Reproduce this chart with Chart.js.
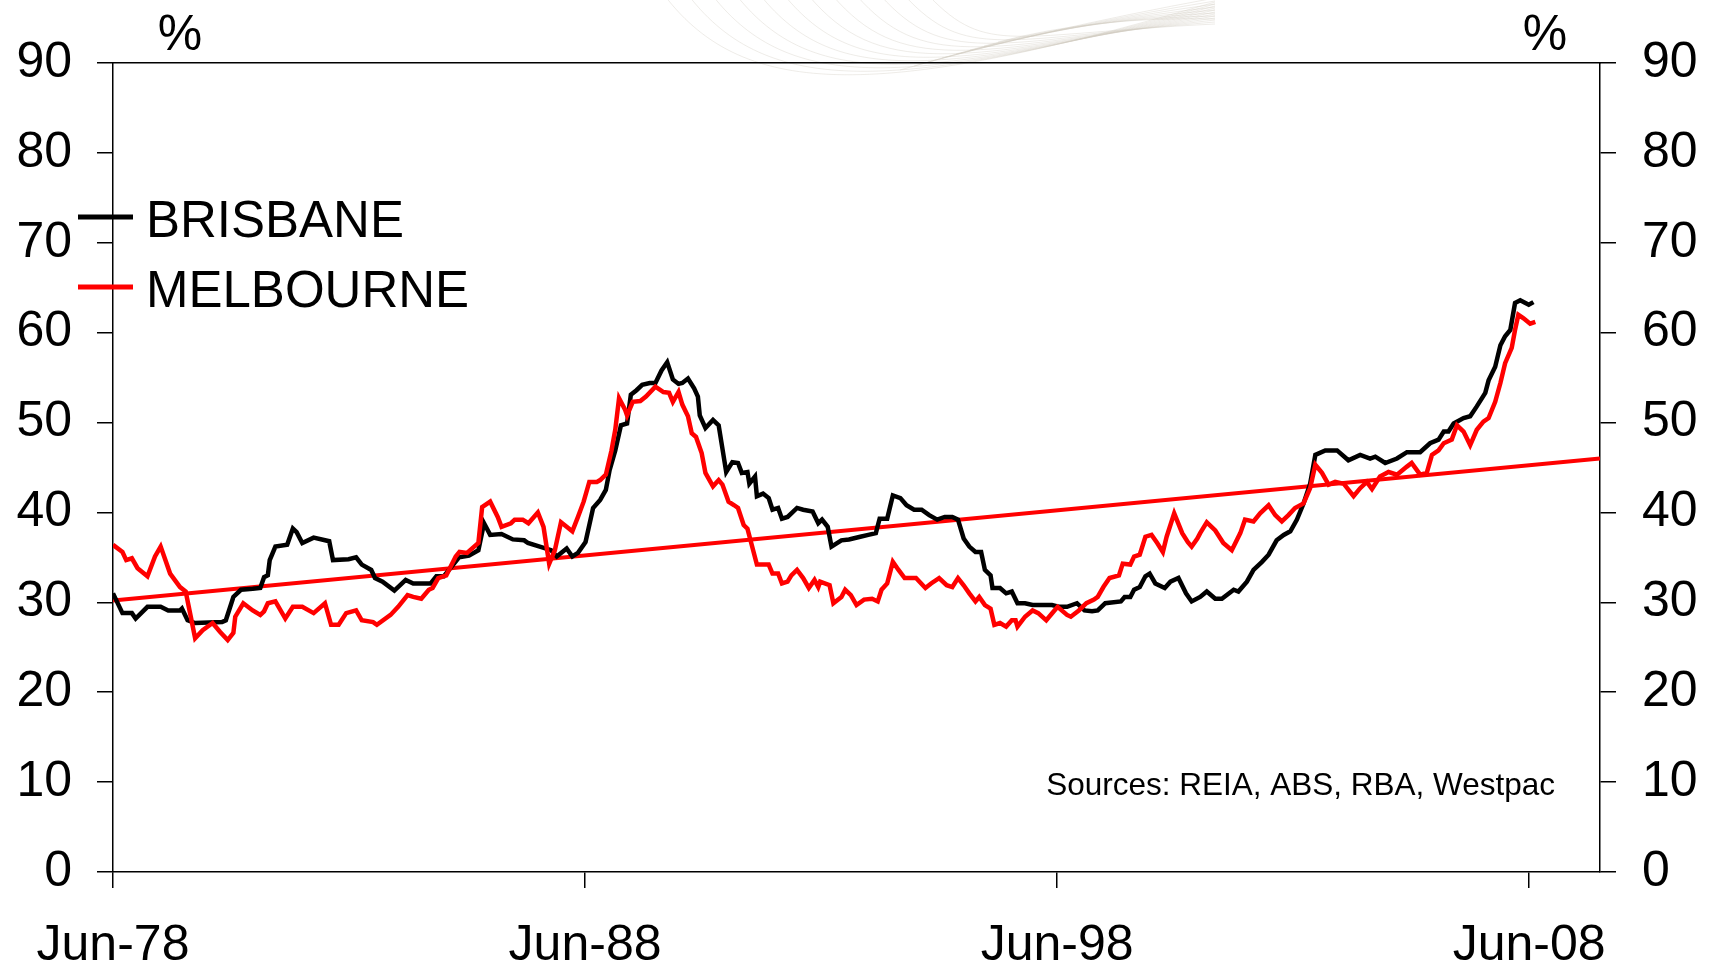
<!DOCTYPE html>
<html>
<head>
<meta charset="utf-8">
<title>Brisbane and Melbourne</title>
<script src="https://cdn.jsdelivr.net/npm/chart.js@4.4.1/dist/chart.umd.min.js"></script>
<style>
  html, body { margin: 0; padding: 0; background: #fff; }
  #wrap { width: 1709px; height: 971px; }
</style>
</head>
<body>
<div id="wrap"><canvas id="chart" width="1709" height="971"></canvas></div>
<script>
const FONT = '"Liberation Sans", Arial, Helvetica, sans-serif';

// x positions are decimal years, Jun-YY sits at YY.5
const tickYears = [1978.5, 1988.5, 1998.5, 2008.5];
const tickLabels = ['Jun-78', 'Jun-88', 'Jun-98', 'Jun-08'];

const brisbaneDates = [
  1978.50, 1978.70, 1978.90, 1978.98, 1979.23, 1979.51, 1979.67, 1979.92, 1979.96, 1980.08,
  1980.24, 1980.81, 1980.89, 1981.05, 1981.21, 1981.46, 1981.62, 1981.70, 1981.78, 1981.82,
  1981.94, 1982.19, 1982.31, 1982.39, 1982.51, 1982.75, 1983.08, 1983.16, 1983.49, 1983.65,
  1983.77, 1983.97, 1984.05, 1984.21, 1984.46, 1984.70, 1984.86, 1985.23, 1985.35, 1985.51,
  1985.63, 1985.83, 1986.04, 1986.24, 1986.36, 1986.49, 1986.73, 1986.97, 1987.21, 1987.29,
  1987.54, 1987.78, 1987.90, 1988.11, 1988.23, 1988.35, 1988.51, 1988.67, 1988.82,
  1988.94, 1989.02, 1989.14, 1989.26, 1989.39, 1989.47, 1989.59, 1989.71, 1989.87, 1989.99,
  1990.12, 1990.24, 1990.36, 1990.48, 1990.56, 1990.68, 1990.81, 1990.89, 1990.93, 1991.05,
  1991.21, 1991.33, 1991.49, 1991.62, 1991.74, 1991.82, 1991.94, 1991.98, 1992.10, 1992.14,
  1992.27, 1992.39, 1992.47, 1992.59, 1992.67, 1992.79, 1992.87, 1992.99, 1993.12, 1993.32,
  1993.44, 1993.52, 1993.64, 1993.72, 1993.93, 1994.09, 1994.33, 1994.50, 1994.66, 1994.74,
  1994.90, 1995.02, 1995.18, 1995.31, 1995.47, 1995.63, 1995.79, 1995.96, 1996.12, 1996.28,
  1996.40, 1996.52, 1996.64, 1996.77, 1996.89, 1996.97, 1997.09, 1997.13, 1997.29, 1997.42,
  1997.54, 1997.66, 1997.82, 1997.98, 1998.39, 1998.55, 1998.71, 1998.92, 1999.08, 1999.24,
  1999.36, 1999.52, 1999.85, 1999.93, 2000.05, 2000.13, 2000.25, 2000.37, 2000.46, 2000.58,
  2000.78, 2000.90, 2001.07, 2001.23, 2001.35, 2001.53,
  2001.67, 2001.85, 2001.99, 2002.24, 2002.34, 2002.52, 2002.66, 2002.84, 2002.98, 2003.15,
  2003.30, 2003.44, 2003.58, 2003.72, 2003.86, 2003.97, 2004.18, 2004.43, 2004.67, 2004.92,
  2005.13, 2005.24, 2005.45, 2005.70, 2005.91, 2006.19, 2006.40, 2006.58, 2006.69, 2006.79,
  2006.90, 2007.11, 2007.25, 2007.39, 2007.57, 2007.64, 2007.78, 2007.89, 2007.99, 2008.10,
  2008.20, 2008.31, 2008.49, 2008.59
];
const brisbaneValues = [
  31.0, 28.8, 28.8, 28.2, 29.5, 29.5, 29.1, 29.1, 29.3, 28.0,
  27.7, 27.8, 28.0, 30.6, 31.4, 31.5, 31.6, 32.8, 33.0, 34.7,
  36.2, 36.4, 38.2, 37.8, 36.6, 37.2, 36.8, 34.7, 34.8, 35.0,
  34.2, 33.6, 32.7, 32.3, 31.3, 32.5, 32.1, 32.1, 32.9, 32.9,
  33.7, 35.0, 35.2, 35.8, 38.8, 37.5, 37.6, 37.0, 36.9, 36.6,
  36.2, 35.8, 35.1, 36.0, 35.1, 35.5, 36.7, 40.5, 41.4,
  42.5, 44.7, 46.9, 49.7, 49.9, 53.1, 53.6, 54.2, 54.4, 54.4,
  55.8, 56.7, 54.8, 54.3, 54.4, 54.9, 53.8, 52.9, 50.8, 49.4,
  50.3, 49.7, 44.5, 45.6, 45.5, 44.4, 44.5, 43.2, 44.0, 41.8,
  42.1, 41.6, 40.3, 40.5, 39.3, 39.5, 39.9, 40.5, 40.3, 40.1,
  38.8, 39.2, 38.4, 36.2, 36.9, 37.0, 37.3, 37.5, 37.7, 39.3,
  39.3, 41.9, 41.6, 40.8, 40.3, 40.3, 39.7, 39.2, 39.5, 39.5,
  39.2, 37.1, 36.2, 35.6, 35.6, 33.6, 33.0, 31.6, 31.6, 31.0,
  31.2, 29.9, 29.9, 29.7, 29.7, 29.5, 29.5, 29.9, 29.1, 29.0,
  29.1, 29.9, 30.1, 30.6, 30.6, 31.4, 31.7, 32.9, 33.2, 32.1,
  31.6, 32.3, 32.7, 31.0, 30.1, 30.6,
  31.2, 30.4, 30.4, 31.4, 31.2, 32.3, 33.6, 34.5, 35.3, 36.9,
  37.5, 37.9, 39.2, 41.0, 43.2, 46.4, 46.9, 46.9, 45.8, 46.4,
  46.0, 46.2, 45.5, 46.0, 46.7, 46.7, 47.7, 48.1, 49.0, 49.0,
  49.9, 50.5, 50.7, 51.8, 53.3, 54.7, 56.2, 58.6, 59.6, 60.3,
  63.3, 63.6, 63.1, 63.4
];

const melbourneDates = [
  1978.50, 1978.70, 1978.78, 1978.90, 1979.02, 1979.23, 1979.39, 1979.51, 1979.71, 1979.92,
  1980.04, 1980.24, 1980.40, 1980.61, 1980.77, 1980.93, 1981.05, 1981.09, 1981.26, 1981.46,
  1981.62, 1981.70, 1981.78, 1981.94, 1982.15, 1982.31, 1982.51, 1982.75, 1982.99, 1983.12,
  1983.28, 1983.44, 1983.65, 1983.77, 1984.01, 1984.09, 1984.38, 1984.54, 1984.74, 1984.86,
  1985.03, 1985.19, 1985.27, 1985.39, 1985.56, 1985.76, 1985.84, 1986.00, 1986.24, 1986.32,
  1986.49, 1986.65, 1986.73, 1986.93, 1987.01, 1987.18, 1987.30, 1987.50, 1987.62, 1987.74,
  1987.86, 1987.99, 1988.11, 1988.23, 1988.35, 1988.47, 1988.59, 1988.75,
  1988.82, 1988.94, 1989.06, 1989.14, 1989.22, 1989.35, 1989.39, 1989.51, 1989.67, 1989.79,
  1989.99, 1990.16, 1990.28, 1990.36, 1990.48, 1990.56, 1990.68, 1990.76, 1990.85, 1990.97,
  1991.05, 1991.21, 1991.33, 1991.41, 1991.54, 1991.66, 1991.74, 1991.86, 1991.94, 1992.02,
  1992.14, 1992.39, 1992.47, 1992.59, 1992.67, 1992.79, 1992.87, 1992.99, 1993.12, 1993.24,
  1993.36, 1993.44, 1993.48, 1993.68, 1993.76, 1993.93, 1994.01, 1994.13, 1994.25, 1994.41,
  1994.58, 1994.70, 1994.78, 1994.90, 1995.02, 1995.14, 1995.27, 1995.51, 1995.71, 1995.83,
  1996.00, 1996.16, 1996.28, 1996.40, 1996.52, 1996.64, 1996.77, 1996.85, 1996.97, 1997.09,
  1997.17, 1997.29, 1997.42, 1997.54, 1997.62, 1997.66, 1997.82, 1997.98, 1998.10, 1998.27,
  1998.43, 1998.51, 1998.71, 1998.79, 1998.96, 1999.12, 1999.28, 1999.36, 1999.48, 1999.61,
  1999.81, 1999.89, 2000.05, 2000.13, 2000.25, 2000.37, 2000.50, 2000.62, 2000.74, 2000.82,
  2000.98, 2001.15, 2001.27, 2001.35, 2001.47, 2001.53,
  2001.67, 2001.85, 2002.02, 2002.20, 2002.38, 2002.48, 2002.66, 2002.80, 2002.98, 2003.12,
  2003.26, 2003.40, 2003.54, 2003.72, 2003.86, 2003.97, 2004.11, 2004.25, 2004.39, 2004.57,
  2004.78, 2004.92, 2005.06, 2005.17, 2005.34, 2005.52, 2005.70, 2005.91, 2006.01, 2006.19,
  2006.33, 2006.44, 2006.58, 2006.69, 2006.86, 2006.97, 2007.11, 2007.25, 2007.39, 2007.53,
  2007.64, 2007.78, 2007.89, 2007.99, 2008.13, 2008.20, 2008.27, 2008.38, 2008.52, 2008.63
];
const melbourneValues = [
  36.4, 35.6, 34.7, 34.9, 33.8, 32.9, 35.1, 36.2, 33.2, 31.7,
  31.2, 26.0, 26.9, 27.7, 26.7, 25.8, 26.6, 28.4, 29.9, 29.1,
  28.6, 29.0, 29.9, 30.1, 28.2, 29.5, 29.5, 28.8, 29.9, 27.5,
  27.5, 28.8, 29.1, 28.0, 27.8, 27.5, 28.6, 29.5, 30.8, 30.6,
  30.4, 31.4, 31.6, 32.7, 33.0, 35.1, 35.6, 35.5, 36.6, 40.6,
  41.2, 39.5, 38.4, 38.8, 39.2, 39.2, 38.8, 40.0, 38.4, 34.3,
  35.8, 38.9, 38.4, 37.9, 39.5, 41.2, 43.4, 43.4,
  43.6, 44.2, 46.9, 49.2, 52.7, 51.4, 50.8, 52.3, 52.4, 52.9,
  54.0, 53.4, 53.3, 52.3, 53.4, 52.0, 50.7, 48.8, 48.4, 46.6,
  44.4, 42.9, 43.6, 43.1, 41.2, 40.8, 40.5, 38.6, 38.2, 36.6,
  34.2, 34.2, 33.2, 33.2, 32.1, 32.3, 33.0, 33.6, 32.7, 31.6,
  32.5, 31.7, 32.3, 31.9, 29.9, 30.6, 31.4, 30.8, 29.7, 30.3,
  30.4, 30.1, 31.4, 32.1, 34.5, 33.6, 32.7, 32.7, 31.6, 32.1,
  32.7, 31.9, 31.7, 32.7, 31.9, 31.0, 30.1, 30.6, 29.7, 29.3,
  27.5, 27.7, 27.3, 28.0, 28.0, 27.3, 28.4, 29.1, 28.8, 28.0,
  29.0, 29.5, 28.6, 28.4, 29.1, 29.9, 30.3, 30.6, 31.7, 32.7,
  33.0, 34.3, 34.2, 35.1, 35.3, 37.3, 37.5, 36.6, 35.6, 37.3,
  39.9, 37.7, 36.7, 36.2, 37.1, 37.7,
  38.9, 38.0, 36.6, 35.8, 37.7, 39.2, 39.0, 39.9, 40.8, 39.7,
  39.0, 39.7, 40.5, 41.0, 42.7, 45.3, 44.4, 43.1, 43.4, 43.2,
  41.8, 42.7, 43.4, 42.6, 44.0, 44.5, 44.2, 45.1, 45.5, 44.2,
  44.4, 46.4, 46.9, 47.7, 48.1, 49.7, 49.0, 47.5, 49.2, 50.1,
  50.5, 52.3, 54.4, 56.6, 58.3, 60.3, 62.0, 61.6, 61.0, 61.2
];

// long-run trend, red straight line across the whole period
const trendDates = [1978.5, 2010.0];
const trendValues = [30.2, 46.0];

const toPoints = (dates, values) => dates.map((x, i) => ({ x, y: values[i] }));

const axisFont = { family: FONT, size: 50 };

const overlay = {
    id: 'overlay',
    beforeDraw(chart) {
        // faint wave artwork behind the top border
        const ctx = chart.ctx;
        ctx.save();
        ctx.strokeStyle = 'rgba(205, 200, 190, 0.35)';
        ctx.lineWidth = 1;
        for (let i = 0; i < 12; i++) {
            ctx.beginPath();
            ctx.moveTo(665 + 24 * i, -4);
            ctx.bezierCurveTo(745 + 22 * i, 100 - 4 * i, 880 + 12 * i, 100 - 6 * i, 1215, 2 + 2 * i);
            ctx.stroke();
        }
        for (let i = 0; i < 8; i++) {
            ctx.beginPath();
            ctx.moveTo(900 + 14 * i, 70 - 4 * i);
            ctx.quadraticCurveTo(1040 + 8 * i, 30 - 2 * i, 1215, -2 + 3 * i);
            ctx.stroke();
        }
        ctx.restore();
    },
    afterDraw(chart) {
        const ctx = chart.ctx;
        ctx.save();
        ctx.fillStyle = '#000';
        ctx.textBaseline = 'alphabetic';

        // unit labels above each axis
        ctx.font = `50px ${FONT}`;
        ctx.textAlign = 'center';
        ctx.fillText('%', 180, 50);
        ctx.fillText('%', 1545, 50);

        // legend, drawn across the left axis
        ctx.font = `51px ${FONT}`;
        ctx.textAlign = 'left';
        const entries = chart.data.datasets.filter((ds) => ds.showInKey);
        entries.forEach((ds, index) => {
            const y = 217 + index * 70;
            ctx.strokeStyle = ds.borderColor;
            ctx.lineWidth = 5;
            ctx.beginPath();
            ctx.moveTo(78, y);
            ctx.lineTo(133, y);
            ctx.stroke();
            ctx.fillText(ds.label, 146, y + 19.5);
        });

        ctx.font = `31.5px ${FONT}`;
        ctx.textAlign = 'right';
        ctx.fillText('Sources: REIA, ABS, RBA, Westpac', 1555, 795);
        ctx.restore();
    },
};

const tickGrid = { drawOnChartArea: false, drawTicks: true, tickLength: 16, color: '#000', lineWidth: 1.5 };
const blackBorder = { display: true, color: '#000', width: 1.5 };

new Chart(document.getElementById('chart'), {
    type: 'line',
    data: {
        datasets: [
            {
                label: 'BRISBANE',
                data: toPoints(brisbaneDates, brisbaneValues),
                borderColor: '#000000',
                borderWidth: 4.5,
                pointRadius: 0,
                order: 2,
                showInKey: true,
            },
            {
                label: 'MELBOURNE',
                data: toPoints(melbourneDates, melbourneValues),
                borderColor: '#ff0000',
                borderWidth: 4.5,
                pointRadius: 0,
                order: 1,
                showInKey: true,
            },
            {
                label: 'Trend',
                data: toPoints(trendDates, trendValues),
                borderColor: '#ff0000',
                borderWidth: 4,
                pointRadius: 0,
                order: 3,
                showInKey: false,
            },
        ],
    },
    options: {
        responsive: false,
        animation: false,
        events: [],
        layout: { padding: 0 },
        plugins: {
            legend: { display: false },
            tooltip: { enabled: false },
        },
        scales: {
            x: {
                type: 'linear',
                position: 'bottom',
                min: 1978.5,
                max: 2010.0,
                afterBuildTicks: (scale) => { scale.ticks = tickYears.map((value) => ({ value })); },
                afterFit: (scale) => { scale.height = 99; },
                ticks: {
                    callback: (value) => tickLabels[tickYears.indexOf(value)],
                    font: axisFont,
                    color: '#000',
                    padding: 28,
                    maxRotation: 0,
                    autoSkip: false,
                },
                grid: tickGrid,
                border: blackBorder,
            },
            xTop: {
                type: 'linear',
                position: 'top',
                min: 1978.5,
                max: 2010.0,
                afterFit: (scale) => { scale.height = 63; },
                ticks: { display: false },
                grid: { display: false },
                border: blackBorder,
            },
            y: {
                position: 'left',
                min: 0,
                max: 90,
                afterFit: (scale) => { scale.width = 113; },
                ticks: { stepSize: 10, font: axisFont, color: '#000', padding: 25 },
                grid: tickGrid,
                border: blackBorder,
            },
            y2: {
                position: 'right',
                min: 0,
                max: 90,
                afterFit: (scale) => { scale.width = 109; },
                ticks: { stepSize: 10, font: axisFont, color: '#000', padding: 26 },
                grid: tickGrid,
                border: blackBorder,
            },
        },
    },
    plugins: [overlay],
});
</script>
</body>
</html>
